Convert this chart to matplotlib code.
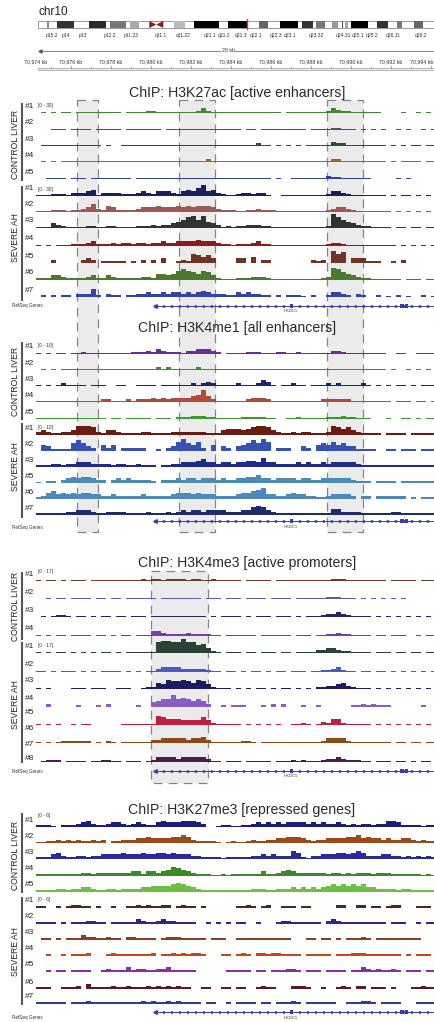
import matplotlib
matplotlib.use("Agg")
import matplotlib.pyplot as plt
from matplotlib.patches import Rectangle, Polygon

plt.rcParams['font.family'] = ['Liberation Sans', 'DejaVu Sans']

# ---------------- data (signal levels per 0.25 kb bin; '-' = no data) ----------------
BIN_START_KB = 70974.25
BIN_KB = 0.25

H3K27AC_CONTROL = [
    "-0-0-00-00 0000000-00 0011000000 0013100000 000000000- 0000000013 211000000- ---0--0-0-",
    "---000-000 0-00000-00 00000-0000 0000000000 0-00-00000 0000-00001 1000-0-0-0 --0-0--0-0",
    "-000000000 000-0--000 0000000000 0000000000 0000200-0- 0-0-000003 2211000000 -0-0-00-00",
    "-0-0-00000 0000000000 0000000000 0001200000 0000100000 0000000002 2100000000 -0-0000-00",
    "--0000-000 -00000000- 0000000000 0000000000 0000000-0- -000000021 1000000--- --0-0-----",
]
H3K27AC_SEVERE = [
    "0001110222 3402222111 2321333213 4357342100 1221220--0 0000000013 3210000000 -0-00-0-0-",
    "0001110112 3521431111 2333433343 4344432111 0011211100 0000000012 3321000000 0-0-0-0-0-",
    "0003210000 1100110000 1112122345 7858432010 1122211000 0000000019 7543211000 0-00-00-00",
    "0-0-000111 2311121221 2212232233 3343332110 1112311000 0000000012 2100000000 00-0-0-0-0",
    "---2-----2 32-11111-1 -2-2-3--12 165453---- 33-4-22--- -----212-8 67-333111- -1-2------",
    "1113321111 2311321111 1221443467 6546531000 1112221000 0000000128 7543211000 000-000-00",
    "-1-1-11-22 251-211-11 2232232332 3234322211 3232211-1- 1110-1--13 321-21--1- 0-1-0--1-0",
]
H3K4ME1_CONTROL = [
    "0-0-00-001 0000000001 1121321110 2233321-00 0011100011 0010000002 2100000000 --00--0000",
    "-0-0-00000 0000000000 0011212110 1121110000 0111111110 1111111111 1110111110 -0--0-0-0-",
    "0-0-121100 -000--01-- 0110-00111 1212321100 21012431-1 1211-11121 2111120-0- 0-00-0-000",
    "0001111111 1112211121 2223232333 3458421111 1123332111 1111111222 2221111000 0-000-00-0",
    "0000000000 0000-00-00 000-000-11 1222110000 01111100-- 0010000011 1211000--- 0--00-0-00",
]
H3K4ME1_SEVERE = [
    "2321122366 6521332111 1221111222 2222111344 4345665321 1212211126 545321111- 1111-11111",
    "-431111575 32-424-222 22--1-2368 5462-4-32- 3457586-22 2--32-4546 45331111-- 11-111-111",
    "1112212233 3222212211 2111-11223 3345332332 3344363322 2232322323 3333211111 1111111111",
    "0-11-23434 4322-23232 2221-22232 3323332322 3344533233 3323322333 3332111-11 11-1111111",
    "1245343434 4332232222 2322222344 4343332222 3445673322 3433221123 3332-22-22 2222-1-111",
    "1111112233 3211222211 1121112123 2332333322 2335653211 1111111114 4222211111 1221111111",
]
H3K4ME3_CONTROL = [
    "0-00-0-000 -000000000 0101101111 0110010000 0-00000-00 0000000001 1100000000 -00000-000",
    "--0-00-000 0-00-00-00 0000-00000 000-000-00 0-0000-000 0-00000011 1000-0-0-0 -0-0------",
    "-0-0110-00 -0-00-00-0 00-0000000 0000-0-000 0-0-000-00 0-0-000122 3210000-0- 0-0-0-0-0-",
    "0-0-00-000 0-00-0-00- 0003321111 2111100-00 0000-00000 0-000-0011 2110000-00 -000--0-00",
]
H3K4ME3_SEVERE = [
    "0-0-00-0-0 -0-00-0-00 0000788779 7756310-00 0-00-000-0 0-00002233 2110000-00 0-00-00-00",
    "00-0-000-0 -0-0000-0- 0-00233332 2222100-00 -0-00-0-00 -000-00112 3100-00-00 -0-0-0-0-0",
    "0-0----000 -000--000- -011436556 546531000- 0-0-00-0-0 0-0-0-1122 3421000-0- 0-0-0-0-0-",
    "--2-----1- --1-2----- 1--3455856 54542--1-1 11---1-2-2 ---1--1--- ---1121211 1------1--",
    "0-0-0--0-0 0------000 0000654443 3335310000 0-0-0-0-0- -0010-0214 4100000-0- 0-0-0-0-0-",
    "0-0-011111 1-0-10-000 0002233333 2334200000 0110-00000 0000000133 3310000000 0-00-00-00",
    "-0111-0000 -001100-00 0-01333323 3333200-00 0-00000-00 0101000122 3211100-00 0-00-0-00-",
]
H3K27ME3_CONTROL = [
    "1110-11123 4211233212 3211343334 4432--0110 0112323232 3333232322 3212122122 4431111011",
    "0011212121 1212-11222 3343333445 4211110-01 0012112233 4443212233 3344534332 3223321211",
    "1113421122 1223333433 3433443433 3221111011 1112232322 2541022333 4434542223 3221212121",
    "1111111112 2122222223 3133234654 3211100101 1111131123 4322222212 2121222122 2111111010",
    "1111221223 3211221222 2334444565 4321111111 1112221122 2323232345 4545453322 2212211111",
]
H3K27ME3_SEVERE = [
    "11--1-1221 1-1--1--11 2121122-12 11-1------ 1121-12--1 11-11----- 22--22-11- 122---111-",
    "1111-1-111 2211-11111 3211232211 11--1-1-1- 11--1---12 2111111-23 2111111111 -111--1-11",
    "-11-1-1113 2211211-22 1111-12221 1111-111-- 1111111111 1---11-11- 1-11121-11 1111111---",
    "--1--1-111 2---121111 1112-11212 1221---11- 121-221221 111-11111- 1112221111 111-1-111-",
    "--1-11-111 1--1211131 2211223111 11------11 111-11-111 221-111-11 11-1132121 121-111-11",
    "111--1112- 3111121121 1121212121 1--11--11- 11--1211-- -2221--1-- 121-22-111 -1---11211",
    "111111-111 2111111111 1212112121 111-11--1- 1111-11-11 121-111111 --111221-1 111---1111",
]

CTRL_LABELS_5 = ["#1", "#2", "#3", "#4", "#5"]
KB_TICKS = list(range(70974, 70995, 2))
HKDC1_START_KB = 70980.15
HKDC1_EXONS_KB = [(70986.95, 70987.12), (70992.45, 70992.65), (70992.72, 70992.85)]
HIGHLIGHTS_ENH_KB = [(70976.3, 70977.35), (70981.4, 70983.2), (70988.8, 70990.6)]
HIGHLIGHT_PROM_KB = (70980.0, 70982.85)

# chromosome 10 ideogram (pixel positions along the ideogram) and band labels
CYTO_BANDS = [(46.7, 49.3, '#888888'), (57.3, 74.0, '#333333'), (89.3, 106.0, '#2a2a2a'),
              (110.0, 126.0, '#777777'), (130.0, 139.3, '#aaaaaa'), (174.0, 185.3, '#bbbbbb'),
              (194.0, 219.3, '#000000'), (228.3, 247.3, '#000000'), (259.0, 267.7, '#666666'),
              (280.0, 297.7, '#000000'), (301.7, 313.3, '#333333'), (316.0, 325.0, '#777777'),
              (331.7, 338.3, '#999999'), (341.7, 343.0, '#555555'), (345.0, 348.3, '#aaaaaa'),
              (350.7, 368.3, '#000000'), (376.7, 388.3, '#333333'), (396.7, 401.7, '#777777'),
              (414.3, 423.3, '#666666')]
CYTO_LABELS = [("p15.2", 52), ("p14", 66), ("p13", 83), ("p12.2", 110), ("p11.23", 131),
               ("q11.1", 161), ("q11.22", 183), ("q21.1", 210), ("q21.2", 224), ("q21.3", 241),
               ("q22.1", 256), ("q22.3", 276), ("q23.1", 290), ("q23.32", 316), ("q24.31", 343),
               ("q25.1", 358), ("q25.2", 372), ("q26.11", 393), ("q26.2", 421)]

# ---------------- layout ----------------
W, H = 434, 1022
KB0, PX0, PXKB = 70974.0, 31.0, 20.0
LEVEL_PX = 1.55
BASE_PX = 1.1


def kb(px):
    return KB0 + (px - PX0) / PXKB


PANELS = [
    dict(title="ChIP: H3K27ac [active enhancers]", tx=237, ty=93, rng="[0 - 30]",
         ctrl=H3K27AC_CONTROL, sev=H3K27AC_SEVERE,
         ctrl_col=['#3d8b2e', '#3b5878', '#2f4f2f', '#9b6a1e', '#3340a0'],
         sev_col=['#1c1f5c', '#9c5a52', '#333333', '#8e1b1b', '#6e3424', '#4b7a2f', '#3344a8'],
         ctrl_y=[113, 130, 146.5, 162.5, 179], sev_y=[196, 212, 228, 246, 263, 280, 297],
         ctrl_lab=CTRL_LABELS_5, sev_lab=["#1", "#2", "#3", "#4", "#5", "#6", "#7"], sev_lab_y=None,
         ctrl_bar=(103, 181), sev_bar=(186, 301), ctrl_ty=144, sev_ty=238,
         rng_y=(105, 189), gene_y=306, refseq_y=305.5, hk_y=310.5),
    dict(title="ChIP: H3K4me1 [all enhancers]", tx=237, ty=328, rng="[0 - 10]",
         ctrl=H3K4ME1_CONTROL, sev=H3K4ME1_SEVERE,
         ctrl_col=['#6a2c9c', '#3d8f2e', '#1d2372', '#b24a3c', '#3d9a2c'],
         sev_col=['#6a1c10', '#3652b2', '#1f2a8c', '#4a8cb4', '#4f88ba', '#1c2c6c'],
         ctrl_y=[354, 370.5, 386.5, 402.5, 419], sev_y=[435, 451, 467, 483, 499, 515],
         ctrl_lab=CTRL_LABELS_5, sev_lab=["#1", "#2", "#3", "#5", "#6", "#7"], sev_lab_y=None,
         ctrl_bar=(342, 420), sev_bar=(423, 518), ctrl_ty=381, sev_ty=467,
         rng_y=(345, 427), gene_y=521, refseq_y=528, hk_y=527),
    dict(title="ChIP: H3K4me3 [active promoters]", tx=247, ty=563, rng="[0 - 17]",
         ctrl=H3K4ME3_CONTROL, sev=H3K4ME3_SEVERE,
         ctrl_col=['#6e3c22', '#5a5cb0', '#2a2262', '#7a3cac'],
         sev_col=['#2b4238', '#4a5ac4', '#1c1c5c', '#8a5cc4', '#c21e42', '#8a4a1c', '#4c1c4c'],
         ctrl_y=[581, 599, 617, 636], sev_y=[653, 672, 689, 707, 725, 743, 762],
         ctrl_lab=["#1", "#2", "#3", "#4"],
         sev_lab=["#1", "#2", "#3", "#4", "#5", "#6", "#7", "#8"],
         sev_lab_y=[647, 664, 680, 699, 713, 729, 745, 759],
         ctrl_bar=(572, 640), sev_bar=(642, 763), ctrl_ty=606, sev_ty=705,
         rng_y=(572, 645), gene_y=771, refseq_y=772, hk_y=776),
    dict(title="ChIP: H3K27me3 [repressed genes]", tx=242, ty=810, rng="[0 - 6]",
         ctrl=H3K27ME3_CONTROL, sev=H3K27ME3_SEVERE,
         ctrl_col=['#1c1c7c', '#9a4a1a', '#2a2a9c', '#3a8a2a', '#6cc044'],
         sev_col=['#4a2a1a', '#2a2a8c', '#8a4020', '#c24a1a', '#8c2cac', '#5a1a2a', '#2a3c9c'],
         ctrl_y=[827, 843, 859, 876, 892], sev_y=[908, 924, 940, 956, 972, 989, 1004],
         ctrl_lab=CTRL_LABELS_5, sev_lab=["#1", "#2", "#3", "#4", "#5", "#6", "#7"], sev_lab_y=None,
         ctrl_bar=(813, 893), sev_bar=(897, 1005), ctrl_ty=855, sev_ty=952,
         rng_y=(815, 900), gene_y=1012, refseq_y=1018, hk_y=1018),
]

fig = plt.figure(figsize=(W / 100, H / 100), dpi=100)
ax = fig.add_axes([0, 0, 1, 1])
ax.set_xlim(kb(0), kb(W))
ax.set_ylim(H, 0)
ax.axis('off')


def parse(s):
    s = s.replace(' ', '')
    s = (s + '-' * 80)[:80]
    return [None if c == '-' else int(c) for c in s]


def draw_track(s, y0, color):
    vals = parse(s)
    xs, hs = [], []
    for i, v in enumerate(vals):
        if v is None:
            continue
        xs.append(BIN_START_KB + (i + 0.5) * BIN_KB)
        hs.append(-max(v * LEVEL_PX, BASE_PX))
    ax.bar(xs, hs, width=BIN_KB * 1.03, bottom=y0, color=color, linewidth=0, zorder=3)


# ---------------- ideogram ----------------
ax.text(kb(38), 12, "chr10", fontsize=8.5, ha='left', va='center', color='#222222')
ax.add_patch(Rectangle((kb(38), 21), kb(434) - kb(38), 7, facecolor='white',
                       edgecolor='#888888', lw=0.6, zorder=2))
for x0, x1, c in CYTO_BANDS:
    ax.add_patch(Rectangle((kb(x0), 21), kb(x1) - kb(x0), 7, facecolor=c,
                           edgecolor='none', zorder=3))
ax.add_patch(Polygon([(kb(149.3), 21), (kb(149.3), 28), (kb(156.3), 24.5)],
                     closed=True, facecolor='#8b1a1a', edgecolor='none', zorder=4))
ax.add_patch(Polygon([(kb(163.3), 21), (kb(163.3), 28), (kb(156.3), 24.5)],
                     closed=True, facecolor='#8b1a1a', edgecolor='none', zorder=4))
ax.plot([kb(247.3)] * 2, [19.5, 29.5], color='#e03a20', lw=1.0, zorder=5)
for lab, px in CYTO_LABELS:
    ax.text(kb(px), 36, lab, fontsize=3.6, ha='center', va='center', color='#333333')

# 20 kb scale
ax.plot([kb(40), kb(434)], [51, 51], color='#555555', lw=0.5, zorder=2)
ax.plot([kb(39.5)], [51], marker='<', ms=2.2, color='#555555', zorder=3)
ax.text(kb(228), 51, "20 kb", fontsize=3.8, ha='center', va='center', color='#333333',
        bbox=dict(facecolor='white', edgecolor='none', pad=0.6), zorder=4)
for k in KB_TICKS:
    xk = min(max(k, kb(36)), kb(422))
    ax.text(xk, 62, f"{k:,} kb", fontsize=3.8, ha='center', va='center', color='#333333')
ax.add_patch(Rectangle((kb(38), 68.5), kb(434) - kb(38), 2, facecolor='#f2f2f2',
                       edgecolor='#999999', lw=0.5))
for k in range(70974, 70995):
    if kb(38) <= k <= kb(434):
        ax.plot([k, k], [66.5 if k % 2 == 0 else 67.3, 68.5], color='#777777', lw=0.5)

# ---------------- highlight boxes ----------------
for x0, x1 in HIGHLIGHTS_ENH_KB:
    ax.add_patch(Rectangle((x0, 100), x1 - x0, 432, facecolor='#ebebeb', edgecolor='#858585',
                           lw=0.9, linestyle=(0, (7, 5)), zorder=1))
x0, x1 = HIGHLIGHT_PROM_KB
ax.add_patch(Rectangle((x0, 571), x1 - x0, 212, facecolor='#ebebeb', edgecolor='#858585',
                       lw=0.9, linestyle=(0, (7, 5)), zorder=1))

# ---------------- panels ----------------
for p in PANELS:
    ax.text(kb(p['tx']), p['ty'], p['title'], fontsize=10.2, ha='center', va='center',
            color='#2a2a2a', zorder=6)
    for s, y, c in zip(p['ctrl'], p['ctrl_y'], p['ctrl_col']):
        draw_track(s, y, c)
    for s, y, c in zip(p['sev'], p['sev_y'], p['sev_col']):
        draw_track(s, y, c)
    for lab, y in zip(p['ctrl_lab'], p['ctrl_y']):
        ax.text(kb(24.5), y - 7, lab, fontsize=6, ha='left', va='center', color='#222222')
    sly = p['sev_lab_y'] if p['sev_lab_y'] else [y - 7 for y in p['sev_y']]
    for lab, y in zip(p['sev_lab'], sly):
        ax.text(kb(24.5), y, lab, fontsize=6, ha='left', va='center', color='#222222')
    ax.text(kb(38), p['rng_y'][0], p['rng'], fontsize=3.4, ha='left', va='center', color='#333333')
    ax.text(kb(38), p['rng_y'][1], p['rng'], fontsize=3.4, ha='left', va='center', color='#333333')
    ax.plot([kb(22)] * 2, p['ctrl_bar'], color='#555555', lw=1.5, solid_capstyle='butt')
    ax.plot([kb(22)] * 2, p['sev_bar'], color='#555555', lw=1.5, solid_capstyle='butt')
    ax.text(kb(15), p['ctrl_ty'], "CONTROL LIVER", fontsize=6.2, rotation=90,
            ha='center', va='center', color='#222222')
    ax.text(kb(15), p['sev_ty'], "SEVERE AH", fontsize=6.2, rotation=90,
            ha='center', va='center', color='#222222')
    # RefSeq gene track
    gy = p['gene_y']
    ax.text(kb(12.5), p['refseq_y'], "RefSeq Genes", fontsize=3.3, ha='left', va='center',
            color='#333333')
    ax.plot([HKDC1_START_KB, kb(W)], [gy, gy], color='#3a3ab0', lw=0.7, zorder=4)
    ax.plot([HKDC1_START_KB + 0.05], [gy], marker='<', ms=2.6, color='#3a3ab0', zorder=4)
    chev = [HKDC1_START_KB + 0.45 + 0.4 * i for i in range(40)
            if HKDC1_START_KB + 0.45 + 0.4 * i < kb(W)]
    ax.plot(chev, [gy] * len(chev), linestyle='none', marker='<', ms=1.3,
            color='#3a3ab0', zorder=4)
    for e0, e1 in HKDC1_EXONS_KB:
        ax.add_patch(Rectangle((e0, gy - 1.8), e1 - e0, 3.6, facecolor='#3a3ab0',
                               edgecolor='none', zorder=5))
    ax.text(HKDC1_EXONS_KB[0][0] + 0.05, p['hk_y'], "HKDC1", fontsize=3.0, ha='center',
            va='center', color='#333333')

fig.savefig("out.png", dpi=100)
